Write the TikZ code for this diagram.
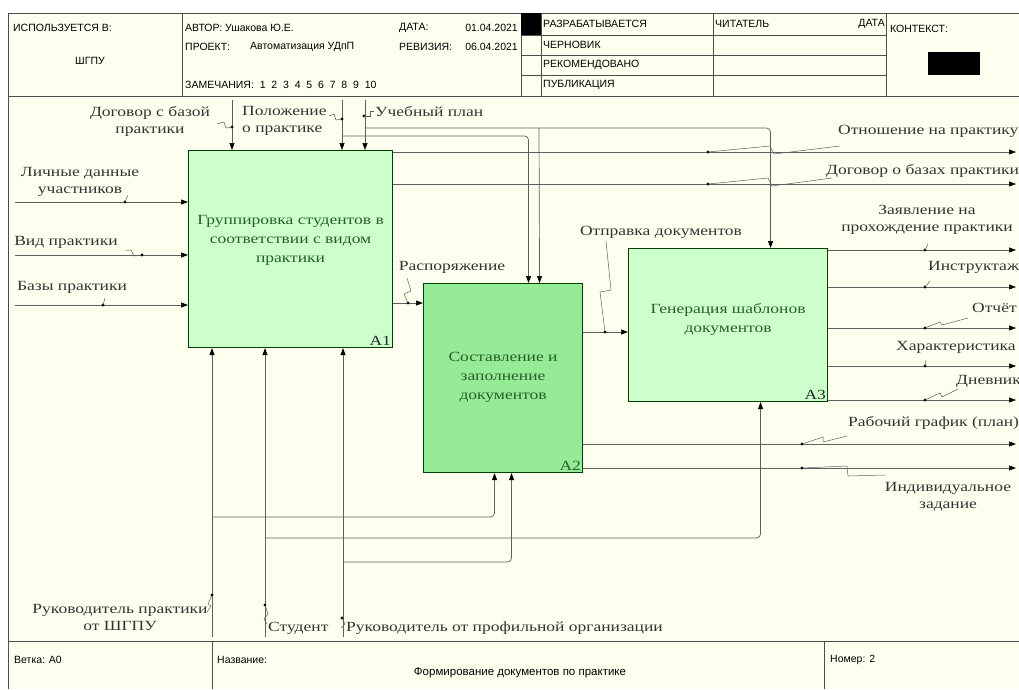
\documentclass[tikz,border=0pt]{standalone}
\usepackage{fontspec}
\usepackage{tikz}
\usetikzlibrary{arrows.meta,positioning,calc}
\newfontfamily\lblfont{Liberation Serif}[FakeStretch=1.25]
\newfontfamily\hdrfont{Liberation Sans}
\definecolor{paper}{RGB}{255,255,240}
\definecolor{boxlight}{RGB}{204,255,204}
\definecolor{boxdark}{RGB}{150,235,150}
\definecolor{boxtext}{RGB}{40,95,40}
\definecolor{wire}{RGB}{95,95,95}

\begin{document}
\begin{tikzpicture}[x=1pt,y=-1pt,
  >={Triangle[length=7pt,width=5pt,color=black]},
  flow/.style={->,draw=wire,line width=0.7pt,rounded corners=4pt},
  lead/.style={draw=wire,line width=0.5pt},
  act/.style={draw=black!75!green,line width=1.1pt,anchor=north west,inner sep=0pt},
  acttxt/.style={font=\lblfont\fontsize{14}{19}\selectfont,text=boxtext,align=center},
  lbl/.style={font=\lblfont\fontsize{14}{17}\selectfont,text=black!80,align=center,inner sep=0pt},
  hdr/.style={font=\hdrfont\fontsize{10.5}{12}\selectfont,anchor=west,inner sep=0pt,text=black}]
  \useasboundingbox (0,0) rectangle (1019,689);
  \clip (0,0) rectangle (1019,689);

  % form
  \fill[paper] (8,13) rectangle (1019,689);
  \draw[line width=1pt,black!70] (1019,13) -- (8,13) -- (8,689);
  \draw[black!70] (8,96) -- (1019,96);
  \draw[black!70] (8,641) -- (1019,641);
  \foreach \x in {182,521,541,713,886} \draw[black!70] (\x,13) -- (\x,96);
  \foreach \y in {35,55,75} \draw[black!70] (521,\y) -- (886,\y);
  \foreach \x in {212,824} \draw[black!70] (\x,641) -- (\x,689);
  \fill (521,13) rectangle (541,35);
  \fill (928,52) rectangle (980,75);

  \node[hdr] (used) at (13,28) {ИСПОЛЬЗУЕТСЯ В:};
  \node[hdr] (org) at (75,61) {ШГПУ};
  \node[hdr] (author) at (185,28) {АВТОР: Ушакова Ю.Е.};
  \node[hdr] (proj) at (185,47) {ПРОЕКТ:};
  \node[hdr] (projname) at (250,47) {Автоматизация УДпП};
  \node[hdr] (date) at (399,28) {ДАТА:};
  \node[hdr,anchor=east] (dateval) at (518,28) {01.04.2021};
  \node[hdr] (rev) at (399,47) {РЕВИЗИЯ:};
  \node[hdr,anchor=east] (revval) at (518,47) {06.04.2021};
  \node[hdr] (notes) at (185,85) {ЗАМЕЧАНИЯ:\ \ 1\ \ 2\ \ 3\ \ 4\ \ 5\ \ 6\ \ 7\ \ 8\ \ 9\ \ 10};
  \foreach \y/\t in {24/РАЗРАБАТЫВАЕТСЯ,45/ЧЕРНОВИК,65/РЕКОМЕНДОВАНО,85/ПУБЛИКАЦИЯ}
    \node[hdr] (st\y) at (543,\y) {\t};
  \node[hdr] (reader) at (715,24) {ЧИТАТЕЛЬ};
  \node[hdr,anchor=east] (rdate) at (885,24) {ДАТА};
  \node[hdr] (ctx) at (890,29) {КОНТЕКСТ:};
  \node[hdr] (branch) at (14,660) {Ветка: А0};
  \node[hdr] (title) at (217,660) {Название:};
  \node[hdr,anchor=center,font=\hdrfont\fontsize{11.5}{13}\selectfont] (titleval) at (520,673) {Формирование документов по практике};
  \node[hdr] (num) at (830,660) {Номер: 2};

  % activities
  \node[act,fill=boxlight,minimum width=204pt,minimum height=197pt] (A1) at (188,150) {};
  \node[act,fill=boxdark,minimum width=159pt,minimum height=189pt] (A2) at (423,283) {};
  \node[act,fill=boxlight,minimum width=199pt,minimum height=153pt] (A3) at (628,248) {};
  \node[acttxt] (A1txt) at ($(A1.center)+(0,-9)$) {Группировка студентов в\\соответствии с видом\\практики};
  \node[acttxt] (A2txt) at ($(A2.center)+(0,-1)$) {Составление и\\заполнение\\документов};
  \node[acttxt] (A3txt) at ($(A3.center)+(0,-6)$) {Генерация шаблонов\\документов};
  \node[acttxt,text=black!85,anchor=south east,inner sep=2pt] (A1num) at (A1.south east) {A1};
  \node[acttxt,anchor=south east,inner sep=2pt] (A2num) at (A2.south east) {A2};
  \node[acttxt,text=black!85,anchor=south east,inner sep=2pt] (A3num) at (A3.south east) {A3};

  % inputs
  \foreach \y in {202,255,305} {
    \coordinate (in\y) at (15,\y);
    \draw[flow] (in\y) -- (in\y -| A1.west);
  }
  \coordinate (rasp) at (400,303);
  \draw[flow] (rasp -| A1.east) -- (rasp -| A2.west);
  \coordinate (otpr) at (600,332);
  \draw[flow] (otpr -| A2.east) -- (otpr -| A3.west);

  % controls
  \foreach \x in {232,342,365} {
    \coordinate (ctl\x) at (\x,100);
    \draw[flow] (ctl\x) -- (ctl\x |- A1.north);
  }
  \draw[flow] (ctl342 |- 0,136) -| ([xshift=25.5pt]A2.north);
  \draw[flow] (ctl365 |- 0,128) -| ([xshift=42.5pt]A3.north);
  \draw[flow] (539,128) -- ([xshift=36.5pt]A2.north);

  % outputs
  \foreach \y in {152,184} {
    \coordinate (out\y) at (1016,\y);
    \draw[flow] (out\y -| A1.east) -- (out\y);
  }
  \foreach \y in {250,287,328,366,400} {
    \coordinate (out\y) at (1016,\y);
    \draw[flow] (out\y -| A3.east) -- (out\y);
  }
  \foreach \y in {444,468} {
    \coordinate (out\y) at (1016,\y);
    \draw[flow] (out\y -| A2.east) -- (out\y);
  }

  % mechanisms
  \foreach \x in {212,265,343} {
    \coordinate (mec\x) at (\x,637);
    \draw[flow] (mec\x) -- (mec\x |- A1.south);
  }
  \draw[flow] (mec212 |- 0,517) -| ([xshift=-8.5pt]A2.south);
  \draw[flow] (mec265 |- 0,538) -| ([xshift=32.5pt]A3.south);
  \draw[flow] (mec343 |- 0,562) -| ([xshift=8.5pt]A2.south);

  % labels
  \node[lbl] (lDogB) at (150,121) {Договор с базой\\практики};
  \node[lbl,anchor=west,align=left] (lPol) at (242,121) {Положение\\о практике};
  \node[lbl,anchor=west] (lPlan) at (375,112) {Учебный план};
  \node[lbl] (lPers) at (80,182) {Личные данные\\участников};
  \node[lbl] (lVid) at (66,242) {Вид практики};
  \node[lbl] (lBaz) at (72,287) {Базы практики};
  \node[lbl] (lRasp) at (452,267) {Распоряжение};
  \node[lbl] (lOtpr) at (661,232) {Отправка документов};
  \node[lbl,anchor=west] (lOtn) at (838,131) {Отношение на практику};
  \node[lbl,anchor=west] (lDogO) at (826,171) {Договор о базах практики};
  \node[lbl] (lZay) at (927,220) {Заявление на\\прохождение практики};
  \node[lbl,anchor=west] (lInstr) at (928,267) {Инструктаж};
  \node[lbl,anchor=west] (lOtch) at (972,308) {Отчёт};
  \node[lbl,anchor=west] (lChar) at (896,347) {Характеристика};
  \node[lbl,anchor=west] (lDnev) at (956,381) {Дневник};
  \node[lbl,anchor=west] (lGraf) at (848,423) {Рабочий график (план)};
  \node[lbl] (lInd) at (948,497) {Индивидуальное\\задание};
  \node[lbl] (lRukS) at (120,617) {Руководитель практики\\от ШГПУ};
  \node[lbl,anchor=west] (lStud) at (268,628) {Студент};
  \node[lbl,anchor=west] (lRukO) at (346,628) {Руководитель от профильной организации};

  % ties
  \foreach \p in {(125,202),(142,255),(103,305),(232,127),(342,119),(364,116),(408,303),(605,332),
                  (708,152),(708,184),(925,250),(925,287),(925,328),(925,366),(925,400),
                  (802,444),(802,468),(212,595),(265,605),(342,618)}
    \fill \p circle (1.6pt);
  \draw[lead] (125,202) -- (128,195);
  \draw[lead] (142,255) -- (134,256) -- (131,250) -- (125,250);
  \draw[lead] (103,305) -- (105,298);
  \draw[lead] (232,127) -- (226,128) -- (224,122) -- (217,124);
  \draw[lead] (342,119) -- (336,120) -- (334,114) -- (329,116);
  \draw[lead] (364,116) -- (370,116) -- (370,111) -- (374,111);
  \draw[lead] (408,303) -- (404,294) -- (411,291) -- (407,278);
  \draw[lead] (605,332) -- (600,292) -- (611,290) -- (606,241);
  \draw[lead] (708,152) -- (770,146) -- (774,154) -- (840,146);
  \draw[lead] (708,184) -- (768,178) -- (772,186) -- (832,178);
  \draw[lead] (925,250) -- (928,244);
  \draw[lead] (925,287) -- (930,281);
  \draw[lead] (925,328) -- (940,322) -- (942,325) -- (968,318);
  \draw[lead] (925,366) -- (926,360);
  \draw[lead] (925,400) -- (940,393) -- (942,397) -- (958,389);
  \draw[lead] (802,444) -- (823,437) -- (823,442) -- (847,436);
  \draw[lead] (802,468) -- (847,466) -- (848,476) -- (885,475);
  \draw[lead] (212,595) -- (208,604) -- (211,606) -- (207,612);
  \draw[lead] (265,605) -- (268,614) -- (264,619) -- (267,624);
  \draw[lead] (342,618) -- (345,624) -- (341,628);
\end{tikzpicture}
\end{document}
